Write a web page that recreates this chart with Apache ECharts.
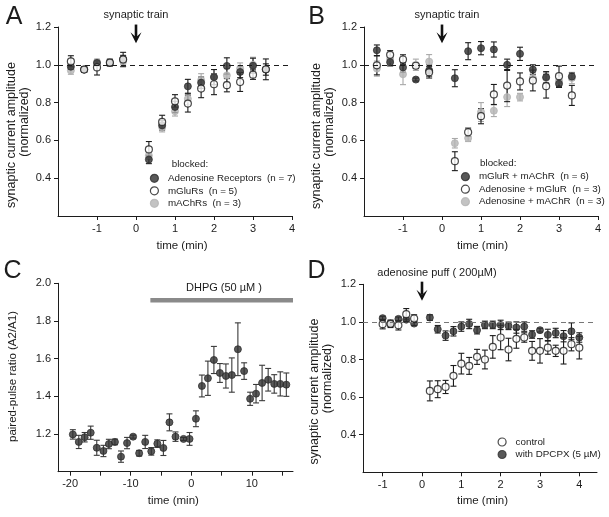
<!DOCTYPE html>
<html><head><meta charset="utf-8">
<script src="https://cdn.jsdelivr.net/npm/echarts@6/dist/echarts.min.js"></script>
<style>html,body{margin:0;padding:0;background:#fff}#c{width:609px;height:517px}</style>
</head><body><div id="c"></div>
<script>
// ---------- Panel A & B shared time points (min) ----------
const tAB = [-1.67,-1.33,-1,-0.67,-0.33,0.33,0.67,1,1.33,1.67,2,2.33,2.67,3,3.33];
// Panel A
const aAdenoName = 'Adenosine Receptors  (n = 7)';
const aAdeno    = [0.99,0.975,1.01,1.01,1.03,0.499,0.68,0.777,0.886,0.905,0.935,0.994,0.962,0.995,0.975];
const aAdenoErr = [0.015,0.015,0.012,0.015,0.02,0.022,0.025,0.03,0.037,0.03,0.04,0.043,0.03,0.04,0.03];
const aGluName = 'mGluRs  (n = 5)';
const aGlu      = [1.018,0.975,0.986,1.012,1.028,0.552,0.698,0.807,0.795,0.874,0.897,0.892,0.909,0.948,0.976];
const aGluErr   = [0.03,0.015,0.04,0.018,0.038,0.042,0.035,0.035,0.045,0.048,0.055,0.035,0.05,0.025,0.055];
const aAChName = 'mAChRs  (n = 3)';
const aACh      = [0.97,0.975,1.015,1.01,1.02,0.52,0.67,0.754,0.82,0.918,0.935,0.944,0.98,1.0,null];
const aAChErr   = [0.02,0.015,0.015,0.015,0.02,0.02,0.025,0.025,0.03,0.035,0.04,0.035,0.03,0.04,null];
// Panel B
const bGluAChName = 'mGluR + mAChR  (n = 6)';
const bGluACh    = [1.077,1.014,0.986,0.922,0.97,0.929,1.072,1.088,1.081,1.0,1.058,0.975,0.934,0.9,0.938];
const bGluAChErr = [0.028,0.02,0.025,0.008,0.03,0.045,0.045,0.035,0.04,0.03,0.035,0.025,0.03,0.02,0.018];
const bAdGluName = 'Adenosine + mGluR  (n = 3)';
const bAdGlu     = [0.997,1.053,1.028,0.995,0.96,0.49,0.643,0.728,0.843,0.89,0.912,0.917,0.887,0.94,0.838];
const bAdGluErr  = [0.05,0.022,0.025,0.015,0.03,0.05,0.022,0.04,0.053,0.085,0.045,0.055,0.063,0.053,0.053];
const bAdAChName = 'Adenosine + mAChR  (n = 3)';
const bAdACh     = [0.98,1.03,0.95,1.0,1.017,0.585,0.612,0.75,0.757,0.829,0.829,0.93,0.93,0.915,0.93];
const bAdAChErr  = [0.04,0.02,0.055,0.03,0.037,0.025,0.018,0.05,0.031,0.05,0.02,0.03,0.03,0.03,0.03];
// Panel C
const cTime  = [-19.55,-18.57,-17.6,-16.6,-15.6,-14.5,-13.6,-12.6,-11.6,-10.6,-9.6,-8.6,-7.6,-6.6,-5.6,-4.6,-3.6,-2.6,-1.27,-0.28,0.77,1.76,2.75,3.74,4.73,5.72,6.7,7.7,8.73,9.72,10.7,11.7,12.7,13.7,14.7,15.7];
const cRatio = [1.198,1.158,1.183,1.207,1.127,1.11,1.147,1.158,1.08,1.152,1.186,1.098,1.158,1.108,1.149,1.126,1.262,1.186,1.174,1.174,1.281,1.455,1.496,1.593,1.524,1.508,1.513,1.65,1.534,1.387,1.414,1.471,1.488,1.466,1.466,1.462];
const cErr   = [0.025,0.035,0.025,0.035,0.04,0.03,0.025,0.015,0.03,0.03,0.008,0.015,0.035,0.02,0.02,0.04,0.045,0.025,0.008,0.034,0.042,0.058,0.091,0.072,0.05,0.064,0.091,0.14,0.044,0.035,0.049,0.094,0.06,0.049,0.064,0.062];
const cDrugRange = [-6.75, 16.8];
// Panel D
const dTime = [-1,-0.8,-0.6,-0.4,-0.2,0.2,0.4,0.6,0.8,1,1.2,1.4,1.6,1.8,2,2.2,2.4,2.6,2.8,3,3.2,3.4,3.6,3.8,4];
const dCtrlName = 'control';
const dCtrl    = [0.988,0.99,0.982,1.041,1.018,0.633,0.642,0.654,0.713,0.778,0.766,0.814,0.8,0.867,0.917,0.853,0.91,0.917,0.846,0.846,0.863,0.846,0.846,0.881,0.863];
const dCtrlErr = [0.025,0.02,0.025,0.03,0.02,0.053,0.045,0.035,0.055,0.055,0.045,0.04,0.05,0.06,0.065,0.06,0.05,0.025,0.05,0.065,0.035,0.03,0.07,0.035,0.06];
const dDpcName = 'with DPCPX (5 µM)';
const dDpc     = [1.02,0.991,1.016,1.012,0.991,1.023,0.961,0.927,0.95,0.975,0.989,0.956,0.984,0.984,0.984,0.979,0.97,0.975,0.933,0.956,0.931,0.941,0.924,0.95,0.917];
const dDpcErr  = [0.01,0.015,0.01,0.01,0.01,0.015,0.02,0.025,0.025,0.025,0.025,0.02,0.02,0.02,0.025,0.02,0.03,0.025,0.02,0.01,0.03,0.025,0.03,0.045,0.025];
// Ticks
const ticksAB_x = [-1,0,1,2,3,4];
const ticksD_x  = [-1,0,1,2,3,4];
const ticksC_x  = [-20,-15,-10,-5,0,5,10,15];
const labelsC_x = [-20,-10,0,10];
const ticksAmp_y = [0.4,0.6,0.8,1.0,1.2];
const ticksC_y   = [1.2,1.4,1.6,1.8,2.0];

const FONT = '"Liberation Sans", Arial, Helvetica, sans-serif';
const INK = '#1c1c1c', DARK = '#2f2f2f', GRAY = '#b4b4b4', GRAYBAR = '#a8a8a8';

function pts(xs, ys){ return xs.map((x,i)=> ys[i]==null?null:[x,ys[i]]).filter(Boolean); }
function bars(xs, ys, es){ return xs.map((x,i)=> (ys[i]==null||es[i]==null)?null:[x,ys[i]-es[i],ys[i]+es[i]]).filter(Boolean); }
function errSeries(gi, xs, ys, es, color){
  return {type:'custom', xAxisIndex:gi, yAxisIndex:gi, silent:true, clip:false, animation:false,
    data: bars(xs,ys,es), encode:{x:0, y:[1,2]},
    renderItem(params, api){
      const x=api.value(0), lo=api.value(1), hi=api.value(2);
      const a=api.coord([x,hi]), b=api.coord([x,lo]); const w=3;
      const st={stroke:color, lineWidth:1.1, fill:null};
      return {type:'group', children:[
        {type:'line', shape:{x1:a[0],y1:a[1],x2:b[0],y2:b[1]}, style:st},
        {type:'line', shape:{x1:a[0]-w,y1:a[1],x2:a[0]+w,y2:a[1]}, style:st},
        {type:'line', shape:{x1:b[0]-w,y1:b[1],x2:b[0]+w,y2:b[1]}, style:st}]};
    }};
}
function dotSeries(gi, name, xs, ys, kind, extra){
  const style = kind==='open' ? {color:'#fff', borderColor:INK, borderWidth:1.2}
              : kind==='gray' ? {color:GRAY, borderColor:GRAY, borderWidth:1}
              : {color:DARK, borderColor:DARK, borderWidth:1};
  return Object.assign({type:'scatter', name, xAxisIndex:gi, yAxisIndex:gi, data:pts(xs,ys),
    symbol:'circle', symbolSize:7, itemStyle:style, silent:true, clip:false, animation:false}, extra||{});
}
function dashed(color){
  return {markLine:{silent:true, animation:false, symbol:['none','none'], label:{show:false},
    lineStyle:{type:[5,4], color:color, width:1}, data:[{yAxis:1}]}};
}
function xAx(gi,min,max,ticks,labels){
  return {type:'value', gridIndex:gi, min, max,
    axisLine:{show:true, onZero:false, lineStyle:{color:INK,width:1}},
    axisTick:{show:true, length:4, customValues:ticks, lineStyle:{color:INK,width:1}},
    axisLabel:{show:true, customValues:labels, margin:7, fontSize:11, fontFamily:FONT, color:INK},
    splitLine:{show:false}};
}
function yAx(gi,min,max,ticks){
  return {type:'value', gridIndex:gi, min, max,
    axisLine:{show:true, onZero:false, lineStyle:{color:INK,width:1}},
    axisTick:{show:true, length:4, customValues:ticks, lineStyle:{color:INK,width:1}},
    axisLabel:{show:true, customValues:ticks, margin:7, fontSize:11, fontFamily:FONT, color:INK, formatter:v=>Number(v).toFixed(1)},
    splitLine:{show:false}};
}
function legendCfg(left, top, names){
  return {left, top, orient:'vertical', itemWidth:17, itemHeight:8, itemGap:0.5, padding:0,
    selectedMode:false, data:names, itemStyle:{borderWidth:1.2},
    textStyle:{fontSize:9.8, fontFamily:FONT, color:INK, lineHeight:12}};
}

const chart = echarts.init(document.getElementById('c'));
const option = {
  animation:false,
  backgroundColor:'#fff',
  grid:[
    {left:58, top:27, width:234, height:189},
    {left:364, top:27, width:234, height:189},
    {left:58, top:283.3, width:235, height:188.4},
    {left:363, top:284.3, width:234, height:188}
  ],
  xAxis:[ xAx(0,-2,4,ticksAB_x,ticksAB_x), xAx(1,-2,4,ticksAB_x,ticksAB_x),
          xAx(2,-22,16.8,ticksC_x,labelsC_x), xAx(3,-1.5,4.45,ticksD_x,ticksD_x) ],
  yAxis:[ yAx(0,0.2,1.2,ticksAmp_y), yAx(1,0.2,1.2,ticksAmp_y),
          yAx(2,1.0,2.0,ticksC_y), yAx(3,0.2,1.2,ticksAmp_y) ],
  legend:[
    legendCfg(149.8,172.3,[aAdenoName,aGluName,aAChName]),
    legendCfg(460.8,170.7,[bGluAChName,bAdGluName,bAdAChName]),
    legendCfg(497.5,436,[dCtrlName,dDpcName])
  ],
  series:[
    errSeries(0,tAB,aACh,aAChErr,GRAYBAR), dotSeries(0,aAChName,tAB,aACh,'gray',dashed(INK)),
    errSeries(0,tAB,aAdeno,aAdenoErr,INK), dotSeries(0,aAdenoName,tAB,aAdeno,'dark'),
    errSeries(0,tAB,aGlu,aGluErr,INK), dotSeries(0,aGluName,tAB,aGlu,'open'),

    errSeries(1,tAB,bAdACh,bAdAChErr,GRAYBAR), dotSeries(1,bAdAChName,tAB,bAdACh,'gray',dashed(INK)),
    errSeries(1,tAB,bGluACh,bGluAChErr,INK), dotSeries(1,bGluAChName,tAB,bGluACh,'dark'),
    errSeries(1,tAB,bAdGlu,bAdGluErr,INK), dotSeries(1,bAdGluName,tAB,bAdGlu,'open'),

    errSeries(2,cTime,cRatio,cErr,'#3a3a3a'), dotSeries(2,'ppr',cTime,cRatio,'dark'),

    errSeries(3,dTime,dDpc,dDpcErr,INK), dotSeries(3,dDpcName,dTime,dDpc,'dark',dashed('#777')),
    errSeries(3,dTime,dCtrl,dCtrlErr,INK), dotSeries(3,dCtrlName,dTime,dCtrl,'open')
  ]
};
chart.setOption(option);

// ---------- annotations placed through the axes ----------
const P = (gi, pt) => chart.convertToPixel({gridIndex:gi}, pt);
function arrow(gi, x, yTop, yTip){
  const a=P(gi,[x,yTop]), b=P(gi,[x,yTip]);
  const hx=b[0], hy=b[1];
  return [
    {type:'line', shape:{x1:a[0],y1:a[1],x2:hx,y2:hy-6}, style:{stroke:'#111',lineWidth:2.6}},
    {type:'polygon', shape:{points:[[hx-5.5,hy-11],[hx,hy-6],[hx+5.5,hy-11],[hx,hy]]}, style:{fill:'#111'}}
  ];
}
function txt(x,y,text,size,align,extra){
  return Object.assign({type:'text', x, y, style:{text, fontSize:size, fontFamily:FONT, fill:INK,
    textAlign:align||'center', textVerticalAlign:'middle'}}, extra||{});
}
const g = [];
// panel letters
g.push(txt(14,17,'A',25), txt(316.5,17.5,'B',25), txt(12.5,271.5,'C',25), txt(316.5,271.5,'D',25));
// arrows
g.push(...arrow(0,0,1.213,1.114), ...arrow(1,0,1.213,1.114), ...arrow(3,0,1.214,1.113));
const aTop=P(0,[0,1.2]), bTop=P(1,[0,1.2]), dTop=P(3,[0,1.2]);
g.push(txt(aTop[0],15,'synaptic train',11), txt(bTop[0]+5,15,'synaptic train',11),
       txt(dTop[0]+15,273.3,'adenosine puff ( 200µM)',11));
// DHPG bar
const d1=P(2,[cDrugRange[0],1.91]), d2=P(2,[cDrugRange[1],1.91]);
g.push({type:'line', shape:{x1:d1[0],y1:d1[1],x2:d2[0],y2:d2[1]}, style:{stroke:'#8a8a8a',lineWidth:4.5}});
g.push(txt(224,288,'DHPG (50 µM )',11));
// legend headers
g.push(txt(171.7,164.3,'blocked:',9.8,'left'), txt(480,163.3,'blocked:',9.8,'left'));
// axis titles
const rot = {rotation:Math.PI/2};
g.push(txt(12,135,'synaptic current amplitude',12.5,'center',rot), txt(25,122,'(normalized)',12.5,'center',rot));
g.push(txt(317,136,'synaptic current amplitude',12.5,'center',rot), txt(330,122,'(normalized)',12.5,'center',rot));
g.push(txt(13,376.5,'paired-pulse ratio (A2/A1)',11.5,'center',rot));
g.push(txt(315,391.5,'synaptic current amplitude',12.5,'center',rot), txt(328,378.5,'(normalized)',12.5,'center',rot));
g.push(txt(182,246,'time (min)',11.5), txt(482.5,245.7,'time (min)',11.5),
       txt(173.3,500.7,'time (min)',11.5), txt(482.5,500.7,'time (min)',11.5));
chart.setOption({graphic:{elements:g}});
</script></body></html>
